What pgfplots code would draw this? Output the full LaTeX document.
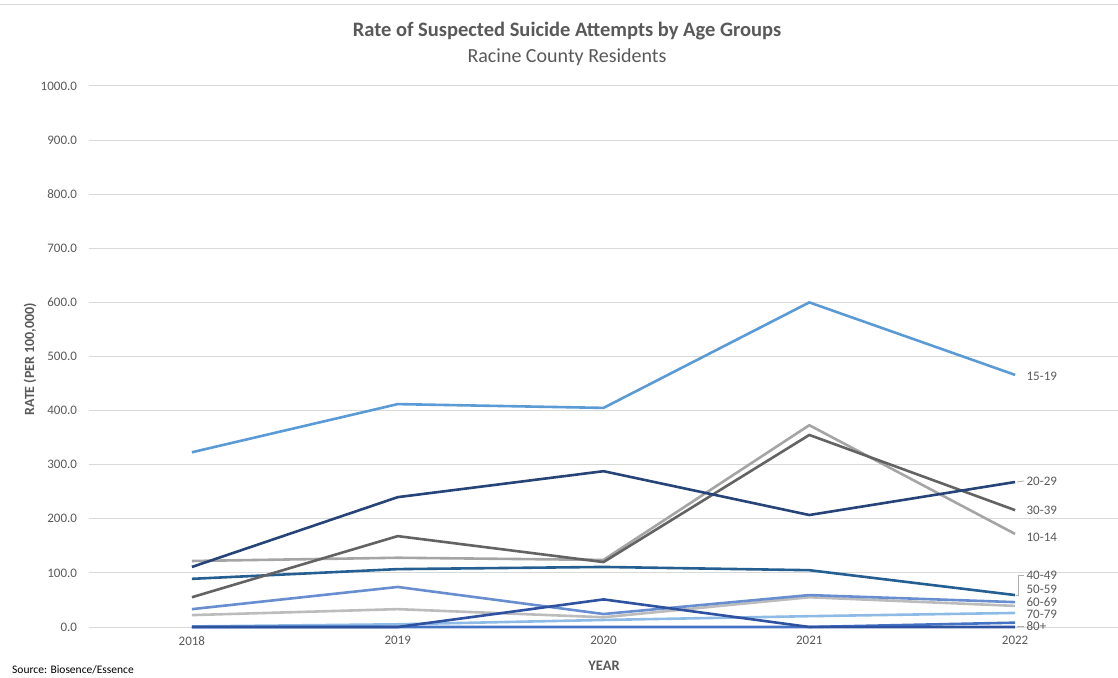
\documentclass[border=0pt]{standalone}
\usepackage{pgfplots}
\pgfplotsset{compat=1.18}
\usepackage{fontspec}
\setmainfont{Carlito}
\definecolor{txt}{HTML}{595959}
\definecolor{gridc}{HTML}{D9D9D9}
\definecolor{cA}{HTML}{5B9BD5}
\definecolor{cB}{HTML}{264478}
\definecolor{cC}{HTML}{636363}
\definecolor{cD}{HTML}{A5A5A5}
\definecolor{cE}{HTML}{255E91}
\definecolor{cF}{HTML}{698ED0}
\definecolor{cG}{HTML}{BCBCBC}
\definecolor{cH}{HTML}{8EBBE6}
\definecolor{cI}{HTML}{2F52A0}
\definecolor{cJ}{HTML}{4472C4}
\begin{document}
\begin{tikzpicture}
\useasboundingbox (0,0) rectangle (1118pt,677pt);
\draw[gridc, line width=1pt] (0,672pt) -- (1118pt,672pt);
\begin{axis}[
  at={(89pt,50pt)}, anchor=south west,
  scale only axis, width=1029pt, height=541pt,
  xmin=2017.5, xmax=2022.5, ymin=0, ymax=1000,
  axis line style={draw=none},
  tick style={draw=none},
  ymajorgrids, grid style={gridc, line width=1pt},
  xtick={2018,2019,2020,2021,2022},
  xticklabels={2018,2019,2020,2021,2022},
  ytick={0,100,...,1000},
  yticklabel style={xshift=-8.5pt, /pgf/number format/.cd, fixed, fixed zerofill, precision=1, 1000 sep={}, assume math mode=true},
  xticklabel style={yshift=-6pt},
  ticklabel style={font=\fontsize{13}{15}\selectfont, text=txt},
  clip=false,
  every axis plot/.append style={line width=2.6pt, no markers, line join=round},
]
\addplot[cH] coordinates {(2018,1) (2019,5) (2020,13) (2021,20) (2022,26)};
\addplot[cG] coordinates {(2018,22) (2019,33) (2020,18) (2021,55) (2022,39)};
\addplot[cF] coordinates {(2018,33) (2019,74) (2020,24) (2021,59) (2022,46)};
\addplot[cJ] coordinates {(2018,0) (2019,0) (2020,0) (2021,0) (2022,8)};
\addplot[cI] coordinates {(2018,0) (2019,0) (2020,51) (2021,0) (2022,0)};
\addplot[cE] coordinates {(2018,89) (2019,107) (2020,111) (2021,105) (2022,59)};
\addplot[cD] coordinates {(2018,122) (2019,128) (2020,124) (2021,373) (2022,172)};
\addplot[cC] coordinates {(2018,55) (2019,168) (2020,120) (2021,355) (2022,216)};
\addplot[cB] coordinates {(2018,111) (2019,240) (2020,288) (2021,207) (2022,268)};
\addplot[cA] coordinates {(2018,323) (2019,412) (2020,405) (2021,600) (2022,466)};
% leader lines
\draw[gridc!80!black, line width=0.8pt] (axis cs:2022.01,268) -- (axis cs:2022.045,270);
\draw[gridc!80!black, line width=0.8pt] (axis cs:2022.005,59) -- (axis cs:2022.015,59) -- (axis cs:2022.015,96) -- (axis cs:2022.045,96);
\draw[gridc!80!black, line width=0.8pt] (axis cs:2022.01,2) -- (axis cs:2022.045,2);
\tikzset{lab/.style={anchor=west, text=txt, font=\fontsize{13}{15}\selectfont, inner sep=0pt}}
\node[lab] at (axis cs:2022.055,464) {15-19};
\node[lab] at (axis cs:2022.055,270) {20-29};
\node[lab] at (axis cs:2022.055,216) {30-39};
\node[lab] at (axis cs:2022.055,165) {10-14};
\node[lab] at (axis cs:2022.055,96) {40-49};
\node[lab] at (axis cs:2022.055,70) {50-59};
\node[lab] at (axis cs:2022.055,45) {60-69};
\node[lab] at (axis cs:2022.055,24) {70-79};
\node[lab] at (axis cs:2022.055,1) {80+};
\end{axis}
\node[text=txt, font=\fontsize{20.5}{23}\selectfont\bfseries] at (567pt,646pt) {Rate of Suspected Suicide Attempts by Age Groups};
\node[text=txt, font=\fontsize{20}{23}\selectfont] at (567pt,620pt) {Racine County Residents};
\node[text=txt, font=\fontsize{14}{16}\selectfont\bfseries, rotate=90] at (30pt,318pt) {RATE (PER 100,000)};
\node[text=txt, font=\fontsize{14.5}{16}\selectfont\bfseries] at (604pt,11pt) {YEAR};
\node[text=black, font=\fontsize{11.5}{13}\selectfont, anchor=base west, inner sep=0pt] at (12pt,3.5pt) {Source: Biosence/Essence};
\end{tikzpicture}
\end{document}
